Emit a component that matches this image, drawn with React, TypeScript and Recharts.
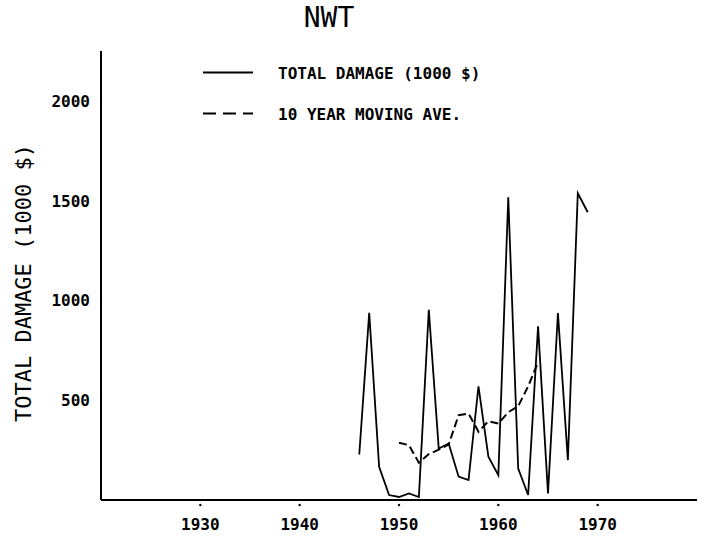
import { LineChart, Line, XAxis, YAxis, Label } from 'recharts';

const damageYears = [
  1946, 1947, 1948, 1949, 1950, 1951, 1952, 1953, 1954, 1955, 1956, 1957,
  1958, 1959, 1960, 1961, 1962, 1963, 1964, 1965, 1966, 1967, 1968, 1969,
];
const damageValues = [
  228, 938, 166, 25, 15, 33, 15, 953, 258, 283, 117, 100,
  570, 217, 125, 1517, 158, 25, 870, 33, 937, 200, 1537, 1442,
];

const aveYears = [
  1950, 1951, 1952, 1953, 1954, 1955, 1956, 1957, 1958, 1959, 1960, 1961,
  1962, 1963, 1964,
];
const aveValues = [
  287, 275, 187, 230, 252, 278, 425, 433, 342, 395, 383, 440, 470, 570, 690,
];

const xTicks = [1930, 1940, 1950, 1960, 1970];
const yTicks = [500, 1000, 1500, 2000];

const damageData = damageYears.map((year, i) => ({ year, value: damageValues[i] }));
const aveData = aveYears.map((year, i) => ({ year, value: aveValues[i] }));

const MONO = '"DejaVu Sans Mono", "Liberation Mono", monospace';

function XTick({ x, y, payload }: any) {
  return (
    <g>
      <circle cx={x} cy={y + 5} r={1.2} fill="#000" />
      <text
        x={x}
        y={y + 30}
        textAnchor="middle"
        fontFamily={MONO}
        fontWeight="bold"
        fontSize={16}
        fill="#000"
      >
        {payload.value}
      </text>
    </g>
  );
}

function YTick({ x, y, payload }: any) {
  return (
    <text
      x={x - 11}
      y={y + 6}
      textAnchor="end"
      fontFamily={MONO}
      fontWeight="bold"
      fontSize={16}
      fill="#000"
    >
      {payload.value}
    </text>
  );
}

function YLabel() {
  return (
    <text
      x={31}
      y={283}
      transform="rotate(-90, 31, 283)"
      textAnchor="middle"
      fontFamily={MONO}
      fontSize={22}
      fill="#000"
    >
      TOTAL DAMAGE (1000 $)
    </text>
  );
}

export default function App() {
  return (
    <div style={{ position: 'absolute', left: 0, top: 0, width: 705, height: 538, background: '#fff' }}>
      <LineChart
        width={705}
        height={538}
        margin={{ top: 51, right: 8, bottom: 0, left: 0 }}
      >
        <XAxis
          type="number"
          dataKey="year"
          domain={[1920, 1980]}
          ticks={xTicks}
          allowDataOverflow
          height={38}
          tickSize={0}
          tickMargin={0}
          tickLine={false}
          axisLine={{ stroke: '#000', strokeWidth: 2 }}
          tick={<XTick />}
        />
        <YAxis
          type="number"
          dataKey="value"
          domain={[0, 2250]}
          ticks={yTicks}
          allowDataOverflow
          width={101}
          tickSize={0}
          tickMargin={0}
          tickLine={false}
          axisLine={{ stroke: '#000', strokeWidth: 2 }}
          tick={<YTick />}
        >
          <Label content={<YLabel />} />
        </YAxis>
        <Line
          data={damageData}
          dataKey="value"
          stroke="#000"
          strokeWidth={1.8}
          dot={false}
          isAnimationActive={false}
        />
        <Line
          data={aveData}
          dataKey="value"
          stroke="#000"
          strokeWidth={2}
          strokeDasharray="8 4"
          dot={false}
          isAnimationActive={false}
        />
      </LineChart>
      <svg
        width={705}
        height={140}
        style={{ position: 'absolute', left: 0, top: 0, pointerEvents: 'none' }}
      >
        <text x={329} y={27} textAnchor="middle" fontFamily={MONO} fontSize={28} fill="#000">
          NWT
        </text>
        <line x1={203} y1={72.5} x2={253} y2={72.5} stroke="#000" strokeWidth={2} />
        <text x={278} y={79} fontFamily={MONO} fontWeight="bold" fontSize={16} fill="#000">
          TOTAL DAMAGE (1000 $)
        </text>
        <line
          x1={203}
          y1={113.5}
          x2={253}
          y2={113.5}
          stroke="#000"
          strokeWidth={2}
          strokeDasharray="13 7"
        />
        <text x={278} y={120} fontFamily={MONO} fontWeight="bold" fontSize={16} fill="#000">
          10 YEAR MOVING AVE.
        </text>
      </svg>
    </div>
  );
}
